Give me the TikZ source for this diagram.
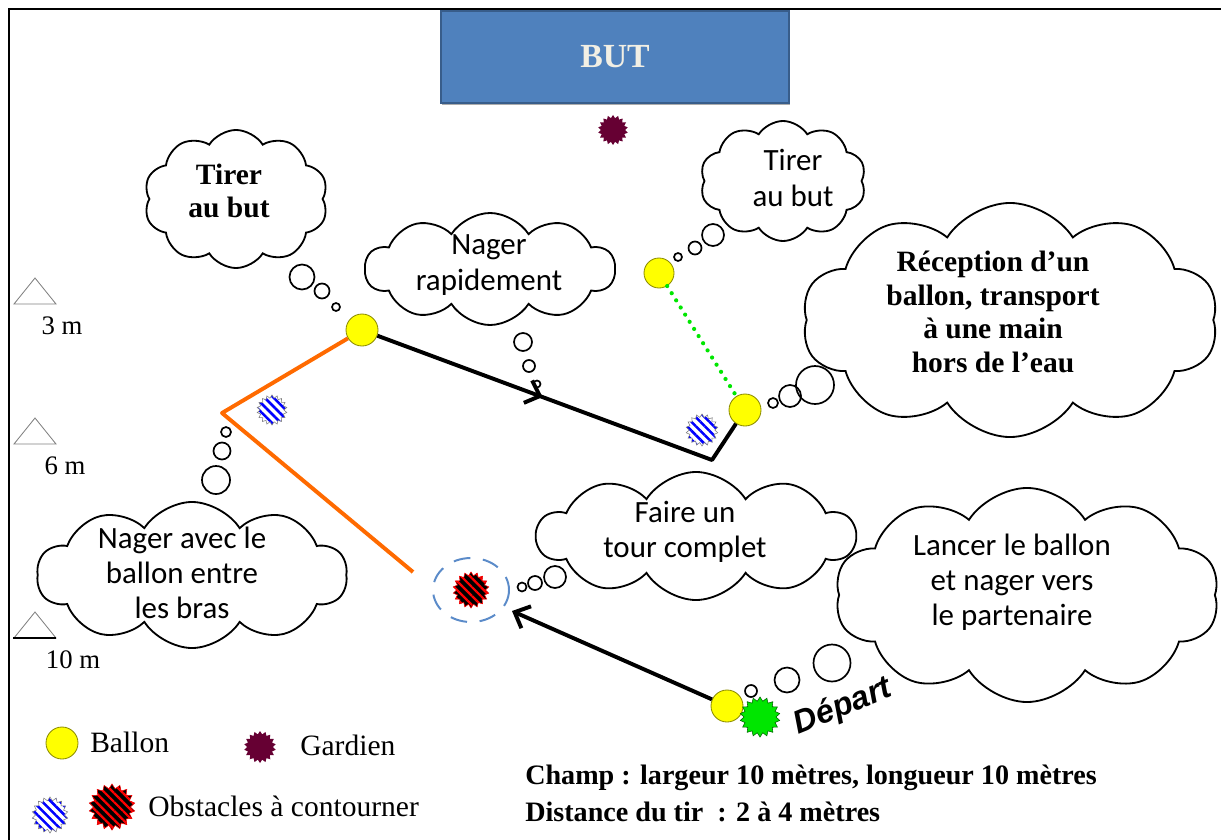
\documentclass[tikz,border=0pt]{standalone}
\usepackage{fontspec}
\setmainfont{Liberation Serif}
\newfontfamily\sansfont{Carlito}
\newfontfamily\departfont{Liberation Sans}
\usetikzlibrary{shapes.symbols,shapes.geometric,patterns.meta,arrows.meta,decorations.markings,shadows}

\definecolor{butblue}{RGB}{79,129,189}
\definecolor{butborder}{RGB}{56,93,138}
\definecolor{butcream}{RGB}{242,239,228}
\definecolor{gardiencol}{RGB}{102,0,51}
\definecolor{orangetrait}{RGB}{255,106,0}
\definecolor{vert}{RGB}{0,230,0}
\definecolor{contourcol}{RGB}{91,139,201}
\definecolor{balle}{RGB}{255,255,0}
\definecolor{balleb}{RGB}{140,140,0}

\tikzset{
  nuage/.style={cloud, cloud puffs=10, cloud puff arc=115, cloud ignores aspect,
    draw, line width=1.3pt, fill=white, inner sep=0pt},
  serifnote/.style={align=center, inner sep=0pt, font=\fontsize{21}{24}\selectfont\bfseries},
  sansnote/.style={align=center, inner sep=0pt, font=\fontsize{22}{25}\selectfont\sansfont},
  bulle/.style={circle, draw, line width=1.2pt, inner sep=0pt, minimum size=#1*0.025cm},
  ballon/.style={circle, fill=balle, draw=balleb, line width=0.6pt, inner sep=0pt,
    minimum size=#1*0.025cm},
  etoile/.style={star, star points=18, star point ratio=1.25, inner sep=0pt,
    minimum size=#1*0.025cm},
  gardien/.style={etoile=#1, fill=gardiencol},
  obstbleu/.style={etoile=#1, draw=gray, line width=0.4pt, preaction={fill=white},
    pattern={Lines[angle=-45,distance=4.5pt,line width=1.8pt]}, pattern color=blue},
  obstrouge/.style={etoile=#1, draw=red, line width=0.4pt, preaction={fill=black},
    pattern={Lines[angle=-45,distance=4.5pt,line width=1.6pt]}, pattern color=red},
  repere/.style={draw=gray, line width=0.6pt},
  legende/.style={font=\fontsize{21}{24}\selectfont, inner sep=0pt},
  trajet/.style={line width=2.8pt, line join=round},
  barb/.tip={Straight Barb[length=9pt,width=17pt]},
}

\begin{document}
\begin{tikzpicture}[x=0.025cm, y=-0.025cm]
  \useasboundingbox (0,0) rectangle (1221,840);
  % cadre
  \draw[line width=1.5pt] (9,840) -- (9,9) -- (1221,9);

  % but et gardien
  \node[fill=butblue, draw=butborder, line width=1pt, minimum width=8.7cm,
    minimum height=2.3cm, text=butcream, font=\fontsize{24}{24}\selectfont\bfseries,
    drop shadow={shadow xshift=0.6pt, shadow yshift=-1.6pt, fill=black!65}]
    (but) at (615,57) {BUT};
  \node[gardien=30] (gardien) at (613,130) {};

  % reperes de distance
  \foreach \y in {304,444,638}
    \draw[repere] (14,\y) -- ++(21,-26) -- ++(21,26) -- cycle;
  \draw[line width=1.6pt] (13,638) -- (56,638);
  \node[legende, font=\fontsize{19}{19}\selectfont] (m3) at (62,326) {3 m};
  \node[legende, font=\fontsize{19}{19}\selectfont] (m6) at (65,466) {6 m};
  \node[legende, font=\fontsize{19}{19}\selectfont] (m10) at (73,660) {10 m};

  % nuages
  \node[nuage, minimum width=4.6cm, minimum height=3.45cm] (tirerA) at (236,199) {};
  \node[serifnote] (tirerA-txt) at (229,191) {Tirer\\au but};
  \node[nuage, minimum width=6.25cm, minimum height=2.8cm] (nager) at (490,269) {};
  \node[sansnote] (nager-txt) at (489,265) {Nager\\rapidement};
  \node[nuage, minimum width=4.15cm, minimum height=3cm] (tirerB) at (783,181) {};
  \node[sansnote] (tirerB-txt) at (793,178) {Tirer\\au but};
  \node[nuage, minimum width=10.4cm, minimum height=5.85cm] (reception) at (1010,320) {};
  \node[serifnote] (reception-txt) at (993,312) {Réception d'un\\ballon, transport\\à une main\\hors de l'eau};
  \node[nuage, minimum width=7.75cm, minimum height=3.65cm] (avec) at (192,575) {};
  \node[sansnote] (avec-txt) at (182,573) {Nager avec le\\ballon entre\\les bras};
  \node[nuage, minimum width=7.95cm, minimum height=3.2cm] (tour) at (696,536) {};
  \node[sansnote] (tour-txt) at (685,532) {Faire un\\tour complet};
  \node[nuage, minimum width=9.6cm, minimum height=5.35cm] (lancer) at (1027,595) {};
  \node[sansnote] (lancer-txt) at (1012,582) {Lancer le ballon\\et nager vers\\le partenaire};

  % bulles de pensee
  \foreach \x/\y/\d [count=\i] in {302/277/25, 322/291/15, 336/307/8,
      523/342/18, 529/366/12, 537/384/7,
      713/235/22, 695/248/13, 678/257/8,
      815/385/38, 790/396/22, 773/403/10,
      216/480/28, 222/451/17, 226/432/10,
      555/577/22, 535/583/14, 522/587/9,
      832/663/37, 787/680/25, 751/691/12}
    \node[bulle=\d] (bulle\i) at (\x,\y) {};

  % ballons et obstacles
  \node[ballon=32] (ballon1) at (362,330) {};
  \node[ballon=30] (ballon2) at (659,273) {};
  \node[ballon=32] (ballon3) at (745,410) {};
  \node[ballon=32] (ballon4) at (727,706) {};
  \node[obstbleu=30] (bleu1) at (272,410) {};
  \node[obstbleu=32] (bleu2) at (702,430) {};
  \node[obstrouge=36] (rouge) at (471,590) {};
  \node[etoile=40, fill=vert, draw=green!40!black, line width=0.4pt] (vertdep) at (760,717) {};
  \node[font=\fontsize{23}{23}\selectfont\departfont\bfseries\itshape, inner sep=0pt,
    rotate=22] (depart) at (843,707) {Départ};

  % trajets
  \coordinate (virageO) at (222,413);
  \coordinate (finO) at (413,572);
  \coordinate (virageN) at (712,460);
  \coordinate (pointe) at (512,611);
  \draw[trajet, orangetrait] (ballon1) -- (virageO) -- (finO);
  \draw[trajet, postaction={decorate}, decoration={markings,
      mark=at position 0.44 with {\arrow{barb}}}] (ballon1) -- (virageN) -- (ballon3);
  \draw[vert, line width=3pt, line cap=round, dash pattern=on 0pt off 6pt] (ballon2) -- (ballon3);
  \draw[trajet, -barb] (ballon4) -- (pointe);
  \draw[contourcol, line width=1.4pt, dash pattern=on 12pt off 9pt] (rouge.center) ellipse [x radius=38, y radius=32];

  % legende
  \node[ballon=32] (legballon) at (62,743) {};
  \node[legende, anchor=west] (txtballon) at (90,742) {Ballon};
  \node[gardien=32] (leggardien) at (260,747) {};
  \node[legende, anchor=west] (txtgardien) at (300,745) {Gardien};
  \node[obstbleu=36] (legbleu) at (50,815) {};
  \node[obstrouge=46] (legrouge) at (112,807) {};
  \node[legende, anchor=west] (txtobst) at (148,806) {Obstacles à contourner};

  % consignes
  \node[legende, anchor=west, font=\fontsize{20}{20}\selectfont\bfseries] (champ) at (525,778)
    {Champ : largeur 10 mètres, longueur 10 mètres};
  \node[legende, anchor=west, font=\fontsize{20}{20}\selectfont\bfseries] (tir) at (525,812)
    {Distance du tir~ : 2 à 4 mètres};
\end{tikzpicture}
\end{document}
